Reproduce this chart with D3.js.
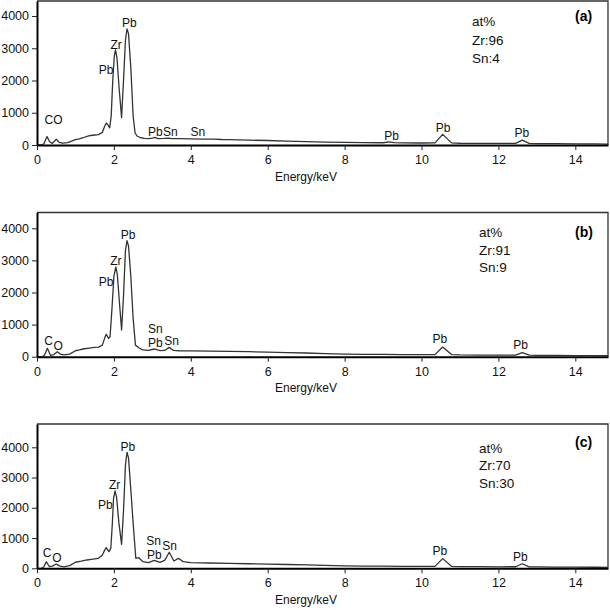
<!DOCTYPE html>
<html><head><meta charset="utf-8">
<script src="https://cdn.jsdelivr.net/npm/d3@7"></script>
<style>
body{margin:0;background:#fff;}
svg{display:block;font-family:"Liberation Sans",Arial,sans-serif;}
</style></head>
<body>
<svg id="chart" width="610" height="610"></svg>
<script>
// ---------- data ----------
const xTicks = [0, 2, 4, 6, 8, 10, 12, 14];
const yTicks = [0, 1000, 2000, 3000, 4000];
const xMax = 14.85;
const yMax = [4465, 4492, 4770];
const panelTags = ["(a)", "(b)", "(c)"];
const compositions = [["at%", "Zr:96", "Sn:4"], ["at%", "Zr:91", "Sn:9"], ["at%", "Zr:70", "Sn:30"]];
const xTitle = "Energy/keV";

// spectra [energy keV, counts]
const spectrumA = [[0,0],[0.12,0],[0.18,40],[0.26,260],[0.33,100],[0.4,50],[0.5,180],[0.58,80],[0.66,55],[0.8,75],[0.9,120],[1.0,165],[1.1,190],[1.2,225],[1.3,265],[1.4,295],[1.5,310],[1.6,320],[1.7,390],[1.76,580],[1.8,680],[1.85,620],[1.89,530],[1.93,900],[1.97,2000],[2.01,2750],[2.04,2950],[2.08,2700],[2.14,1700],[2.2,850],[2.25,2000],[2.3,3250],[2.34,3600],[2.38,3450],[2.44,2400],[2.5,900],[2.55,380],[2.6,280],[2.7,225],[2.8,205],[2.9,200],[3.0,215],[3.06,235],[3.15,200],[3.3,205],[3.42,215],[3.5,200],[3.7,195],[4.0,190],[4.3,185],[4.6,180],[4.8,170],[5.0,168],[5.5,150],[6.0,140],[6.5,120],[7.0,105],[7.5,92],[8.0,82],[8.5,75],[9.0,70],[9.15,95],[9.28,75],[9.5,68],[10.0,62],[10.35,65],[10.55,330],[10.78,65],[11.0,55],[11.5,52],[12.0,48],[12.45,48],[12.62,150],[12.8,48],[13.0,42],[13.5,40],[14.0,35],[14.5,32],[14.85,30]];
const spectrumB = [[0,0],[0.14,0],[0.2,60],[0.27,260],[0.35,45],[0.43,60],[0.53,155],[0.62,70],[0.7,55],[0.85,80],[1.0,185],[1.1,210],[1.2,240],[1.35,265],[1.5,290],[1.6,300],[1.7,360],[1.76,580],[1.8,700],[1.86,570],[1.9,620],[1.95,1500],[2.0,2500],[2.05,2800],[2.09,2550],[2.15,1600],[2.2,830],[2.25,1900],[2.3,3300],[2.34,3615],[2.38,3450],[2.44,2500],[2.5,1200],[2.56,360],[2.65,280],[2.75,210],[2.9,200],[3.05,240],[3.2,190],[3.32,195],[3.44,290],[3.55,195],[3.7,185],[4.0,180],[4.5,172],[5.0,165],[5.5,155],[6.0,145],[6.5,130],[7.0,115],[7.5,95],[8.0,80],[8.5,75],[9.0,70],[9.5,66],[10.0,62],[10.35,65],[10.55,300],[10.78,65],[11.0,55],[11.5,52],[12.0,48],[12.45,50],[12.62,130],[12.8,48],[13.0,42],[13.5,40],[14.0,36],[14.5,33],[14.85,30]];
const spectrumC = [[0,0],[0.12,0],[0.18,50],[0.24,220],[0.32,60],[0.4,70],[0.5,143],[0.6,70],[0.7,50],[0.85,90],[1.0,200],[1.15,235],[1.3,275],[1.45,300],[1.6,330],[1.7,440],[1.76,600],[1.8,683],[1.87,550],[1.92,660],[1.96,1500],[1.99,2300],[2.03,2556],[2.07,2350],[2.13,1500],[2.2,793],[2.25,1900],[2.3,3400],[2.34,3835],[2.38,3650],[2.44,2600],[2.5,1500],[2.57,330],[2.65,350],[2.75,220],[2.9,190],[3.05,264],[3.2,198],[3.32,260],[3.44,529],[3.56,242],[3.68,330],[3.8,220],[4.0,190],[4.5,175],[5.0,160],[5.5,150],[6.0,140],[6.5,125],[7.0,110],[7.5,95],[8.0,82],[8.5,75],[9.0,70],[9.5,66],[10.0,62],[10.35,65],[10.55,320],[10.78,65],[11.0,58],[11.5,54],[12.0,50],[12.45,52],[12.62,150],[12.8,50],[13.0,45],[13.5,42],[14.0,38],[14.5,35],[14.85,32]];
const spectra = [spectrumA, spectrumB, spectrumC];

// peak labels [text, energy, counts at text baseline]
const labelsA = [["CO",0.43,650],["Pb",1.80,2200],["Zr",2.06,2977],["Pb",2.40,3660],["Pb",3.08,280],["Sn",3.47,280],["Sn",4.18,280],["Pb",9.22,155],["Pb",10.56,400],["Pb",12.61,250]];
const labelsB = [["C",0.30,365],["O",0.55,210],["Pb",1.80,2202],["Zr",2.05,2857],["Pb",2.37,3667],["Sn",3.08,730],["Pb",3.08,290],["Sn",3.50,364],["Pb",10.48,427],["Pb",12.58,240]];
const labelsC = [["C",0.26,383],["O",0.52,218],["Pb",1.78,1950],["Zr",2.02,2620],["Pb",2.36,3888],["Sn",3.03,770],["Pb",3.05,320],["Sn",3.45,605],["Pb",10.48,440],["Pb",12.57,250]];
const peakLabels = [labelsA, labelsB, labelsC];

// ---------- layout ----------
const panels = [
  {top: 1, bottom: 145, compX: 472, compY: [25, 43.5, 62], tagY: 20},
  {top: 212.5, bottom: 356.7, compX: 479, compY: [24.5, 42, 59], tagY: 24.5},
  {top: 424, bottom: 568.3, compX: 479, compY: [29, 46, 64], tagY: 23}
];
const left = 37, right = 608;
const svg = d3.select("#chart");

panels.forEach((p, i) => {
  const h = p.bottom - p.top;
  const g = svg.append("g").attr("transform", `translate(0,${p.top})`);
  const x = d3.scaleLinear().domain([0, xMax]).range([left, right]);
  const y = d3.scaleLinear().domain([0, yMax[i]]).range([h, 0]);

  g.append("clipPath").attr("id", "clip" + i).append("rect")
    .attr("x", left).attr("y", 0).attr("width", right - left).attr("height", h);

  // frame top/right
  g.append("path")
    .attr("d", `M${left},0H${right}V${h}`)
    .attr("fill", "none").attr("stroke", "#333").attr("stroke-width", 1.3);

  // spectrum
  const line = d3.line().x(d => x(d[0])).y(d => y(d[1]));
  g.append("path").datum(spectra[i])
    .attr("clip-path", `url(#clip${i})`)
    .attr("d", line)
    .attr("fill", "none").attr("stroke", "#333").attr("stroke-width", 1.3)
    .attr("stroke-linejoin", "round");

  // axes
  const fmt = d3.format("d");
  const xa = g.append("g").attr("transform", `translate(0,${h})`)
    .call(d3.axisBottom(x).tickValues(xTicks).tickFormat(fmt).tickSize(5).tickSizeOuter(0).tickPadding(5));
  const ya = g.append("g").attr("transform", `translate(${left},0)`)
    .call(d3.axisLeft(y).tickValues(yTicks).tickFormat(fmt).tickSize(5).tickSizeOuter(0).tickPadding(3));
  [xa, ya].forEach(a => {
    a.select(".domain").attr("stroke", "#000").attr("stroke-width", 2);
    a.selectAll(".tick line").attr("stroke", "#222").attr("stroke-width", 1);
    a.selectAll(".tick text").attr("fill", "#111").style("font-size", "12.5px")
      .style("font-family", '"Liberation Sans",Arial,sans-serif');
  });

  // axis title
  g.append("text").attr("x", 306).attr("y", h + 35.5)
    .attr("text-anchor", "middle").attr("fill", "#111").style("font-size", "12px").text(xTitle);

  // peak labels
  g.selectAll(".pl").data(peakLabels[i]).enter().append("text")
    .attr("x", d => x(d[1])).attr("y", d => y(d[2]))
    .attr("text-anchor", "middle").attr("fill", "#111").style("font-size", "12px")
    .text(d => d[0]);

  // composition
  compositions[i].forEach((t, k) => {
    g.append("text").attr("x", p.compX).attr("y", p.compY[k])
      .attr("fill", "#111").style("font-size", "13.5px").text(t);
  });
  g.append("text").attr("x", 575).attr("y", p.tagY)
    .attr("fill", "#000").style("font-size", "14px").style("font-weight", "bold").text(panelTags[i]);
});
</script>
</body></html>
